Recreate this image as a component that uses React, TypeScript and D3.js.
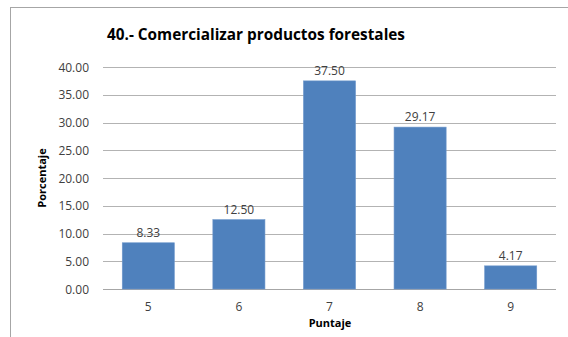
import React from "react";
import * as d3 from "d3";

const categories = ["5", "6", "7", "8", "9"];
const values = [8.33, 12.5, 37.5, 29.17, 4.17];
const yTicks = [0, 5, 10, 15, 20, 25, 30, 35, 40];
const title = "40.- Comercializar productos forestales";
const xTitle = "Puntaje";
const yTitle = "Porcentaje";

export default function App() {
  const W = 568, H = 337;
  const left = 103, right = 556, top = 67, bottom = 289;
  const x = d3.scaleBand().domain(categories).range([left, right]).paddingInner(0.425).paddingOuter(0.2125);
  const y = d3.scaleLinear().domain([0, 40]).range([bottom, top]);
  const font = "'Open Sans', 'DejaVu Sans', sans-serif";
  return (
    <svg width={W} height={H} style={{ position: "absolute", left: 0, top: 0, background: "#fff" }} fontFamily={font}>
      <rect x={10.5} y={7.5} width={W} height={H} fill="#fff" stroke="#a6a6a6" strokeWidth={1} />
      <text x={107} y={40} fontSize={15.5} fontWeight="bold" fill="#000" textLength={298} lengthAdjust="spacingAndGlyphs">{title}</text>
      {yTicks.map((t) => (
        <g key={t}>
          <line x1={left} x2={right} y1={Math.round(y(t)) + 0.5} y2={Math.round(y(t)) + 0.5} stroke={t === 0 ? "#a6a6a6" : "#b3b3b3"} strokeWidth={1} />
          <text x={89} y={y(t) + 4.5} fontSize={12} textAnchor="end" fill="#404040">{t.toFixed(2)}</text>
        </g>
      ))}
      {values.map((v, i) => (
        <g key={i}>
          <rect x={x(categories[i])!} y={y(v)} width={x.bandwidth()} height={bottom - y(v)} fill="#4f81bd" stroke="#6f98cb" strokeWidth={0.6} />
          <text x={x(categories[i])! + x.bandwidth() / 2} y={y(v) - 6} fontSize={12} textAnchor="middle" fill="#404040">{v.toFixed(2)}</text>
          <text x={x(categories[i])! + x.bandwidth() / 2} y={311} fontSize={12} textAnchor="middle" fill="#404040">{categories[i]}</text>
        </g>
      ))}
      <text x={330} y={327} fontSize={11} fontWeight="bold" textAnchor="middle" fill="#000">{xTitle}</text>
      <text transform={`translate(46, ${(top + bottom) / 2}) rotate(-90)`} fontSize={11} fontWeight="bold" textAnchor="middle" fill="#000">{yTitle}</text>
    </svg>
  );
}
